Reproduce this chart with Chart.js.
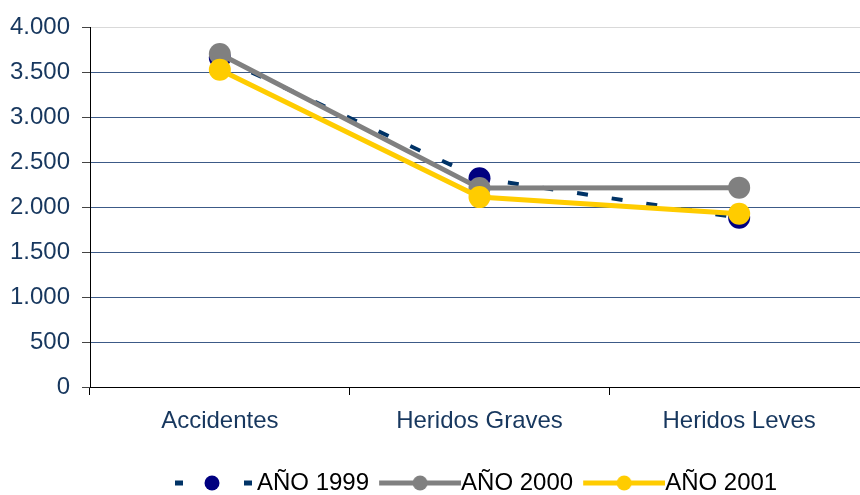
<!DOCTYPE html>
<html>
<head>
<meta charset="utf-8">
<script src="https://cdn.jsdelivr.net/npm/chart.js@4.4.0/dist/chart.umd.min.js"></script>
<style>
html, body { margin: 0; padding: 0; background: #fff; overflow: hidden; }
#wrap { width: 860px; height: 495px; overflow: hidden; }
</style>
</head>
<body>
<div id="wrap"><canvas id="chart" width="880" height="495"></canvas></div>
<script>
// datos
const categorias = ['Accidentes', 'Heridos Graves', 'Heridos Leves'];
const serie1999 = [3660, 2320, 1880];
const serie2000 = [3700, 2210, 2215];
const serie2001 = [3525, 2110, 1925];
const etiquetas = ['AÑO 1999', 'AÑO 2000', 'AÑO 2001'];

const AZUL_TEXTO = '#17375E';

Chart.defaults.font.family = "'Liberation Sans', Arial, sans-serif";

function miles(v) {
    return String(v).replace(/\B(?=(\d{3})+(?!\d))/g, '.');
}

// símbolo de leyenda: línea + punto (o guiones para 1999)
function simbolo(colorPunto, colorLinea, guiones) {
    const c = document.createElement('canvas');
    c.width = 94;
    c.height = 24;
    const g = c.getContext('2d');
    const y = 12;
    g.fillStyle = colorLinea;
    if (guiones) {
        g.fillRect(12, y - 2.5, 8, 5);
        g.fillRect(81, y - 2.5, 8, 5);
    } else {
        g.fillRect(12, y - 2.5, 82, 5);
    }
    g.beginPath();
    g.arc(guiones ? 49 : 53, y, 7.5, 0, Math.PI * 2);
    g.fillStyle = colorPunto;
    g.fill();
    return c;
}

const simbolos = [
    simbolo('#000080', '#003366', true),
    simbolo('#808080', '#808080', false),
    simbolo('#FFCC00', '#FFCC00', false)
];

const moverLeyenda = {
    id: 'moverLeyenda',
    afterLayout(chart) {
        const l = chart.legend;
        if (!l || !l.lineWidths) return;
        const pad = l.options.labels.padding;
        const inicio = (l.left + pad + l.right - l.lineWidths[0]) / 2;
        const dx = 175 - inicio;
        l.left += dx;
        l.right += dx;
        const h = l.bottom - l.top;
        l.top = 461;
        l.bottom = 461 + h;
    }
};

const ctx = document.getElementById('chart');

new Chart(ctx, {
    type: 'line',
    data: {
        labels: categorias,
        datasets: [{
            label: etiquetas[0],
            data: serie1999,
            borderColor: '#003366',
            borderWidth: 4,
            borderDash: [11, 24],
            pointBackgroundColor: '#000080',
            pointBorderWidth: 0,
            pointRadius: 11,
            tension: 0,
            order: 3
        }, {
            label: etiquetas[1],
            data: serie2000,
            borderColor: '#808080',
            borderWidth: 5,
            pointBackgroundColor: '#808080',
            pointBorderWidth: 0,
            pointRadius: 11,
            tension: 0,
            order: 2
        }, {
            label: etiquetas[2],
            data: serie2001,
            borderColor: '#FFCC00',
            borderWidth: 5,
            pointBackgroundColor: '#FFCC00',
            pointBorderWidth: 0,
            pointRadius: 11,
            tension: 0,
            order: 1
        }]
    },
    options: {
        responsive: false,
        animation: false,
        layout: {
            padding: { top: 27, right: 10, bottom: 0, left: 0 }
        },
        plugins: {
            tooltip: { enabled: false },
            legend: {
                position: 'bottom',
                labels: {
                    usePointStyle: true,
                    pointStyleWidth: 70,
                    padding: 10,
                    color: '#000',
                    font: { size: 24 },
                    generateLabels: function(chart) {
                        return chart.data.datasets.map((ds, i) => ({
                            text: ds.label,
                            pointStyle: simbolos[i],
                            fillStyle: ds.borderColor,
                            strokeStyle: ds.borderColor,
                            lineWidth: 0,
                            fontColor: '#000',
                            hidden: false,
                            datasetIndex: i
                        }));
                    }
                }
            }
        },
        scales: {
            x: {
                offset: true,
                grid: {
                    offset: true,
                    drawOnChartArea: false,
                    tickLength: 8,
                    tickColor: '#000'
                },
                border: { color: '#000', width: 1 },
                ticks: {
                    color: AZUL_TEXTO,
                    font: { size: 24 },
                    padding: 12,
                    maxRotation: 0,
                    autoSkip: false
                },
                afterFit: function(scale) {
                    const lh = scale.chart.legend ? scale.chart.legend.height : 55;
                    scale.height = 495 - 387 - lh;
                }
            },
            y: {
                min: 0,
                max: 4000,
                grid: {
                    tickLength: 8,
                    color: function(c) {
                        if (c.tick.value === 4000) return '#D9D9D9';
                        if (c.tick.value === 0) return '#000';
                        return '#3C5A87';
                    },
                    tickColor: '#444'
                },
                border: { color: '#000', width: 1 },
                ticks: {
                    stepSize: 500,
                    color: AZUL_TEXTO,
                    font: { size: 24 },
                    padding: 12,
                    callback: function(value) {
                        return miles(value);
                    }
                },
                afterFit: function(scale) {
                    scale.width = 90;
                }
            }
        }
    },
    plugins: [moverLeyenda]
});
</script>
</body>
</html>
